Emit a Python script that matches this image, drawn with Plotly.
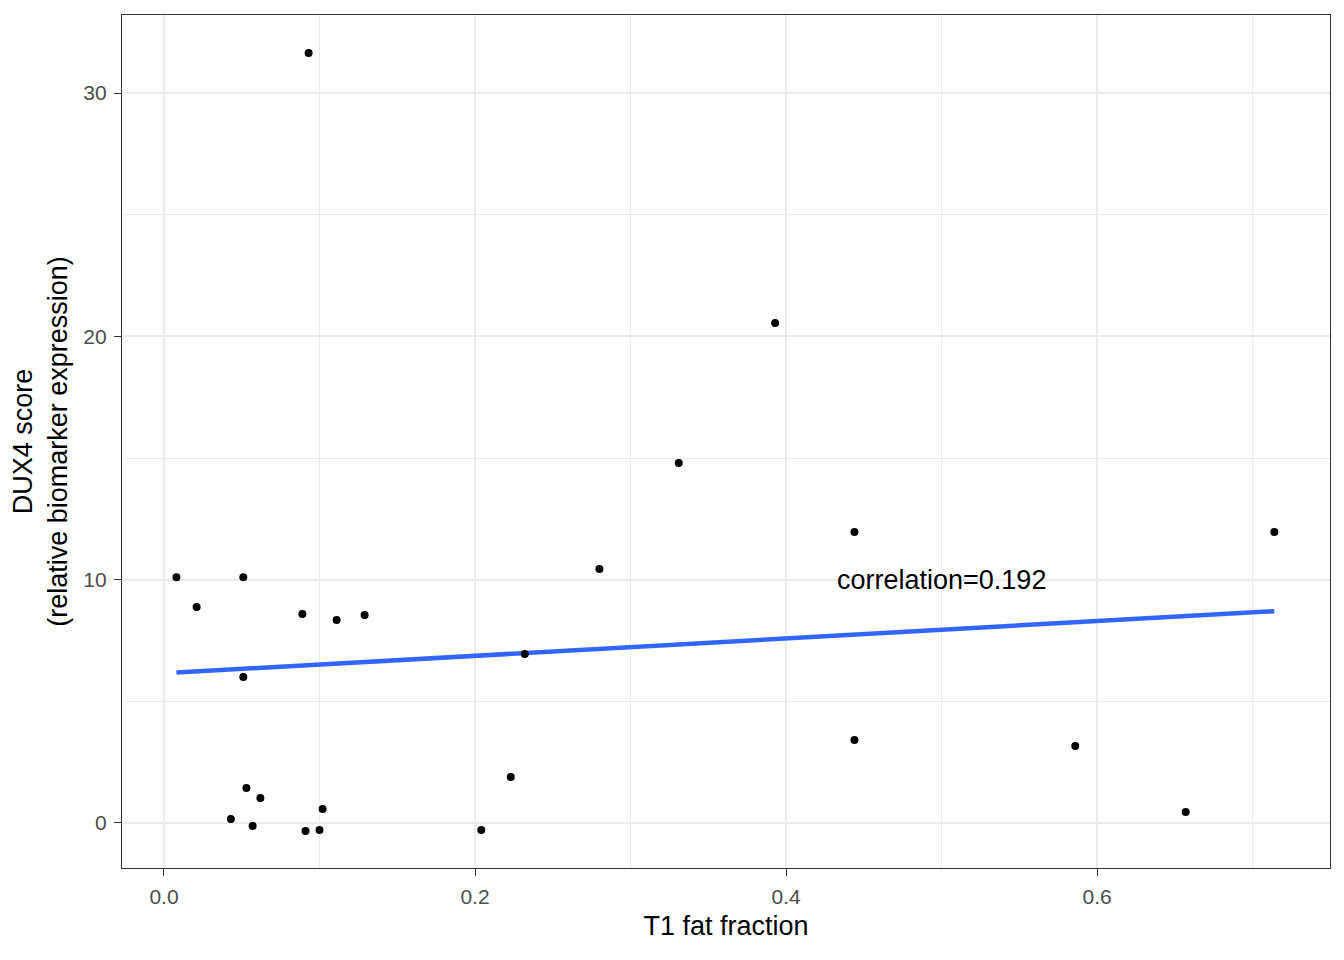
import numpy as np
import plotly.graph_objects as go

# T1 fat fraction vs DUX4 score
fat_fraction = [0.008, 0.051, 0.021, 0.089, 0.111, 0.129, 0.051, 0.053, 0.062,
                0.043, 0.057, 0.091, 0.100, 0.102, 0.204, 0.223, 0.232, 0.280,
                0.331, 0.393, 0.444, 0.444, 0.093, 0.586, 0.657, 0.714]
dux4_score = [10.1, 10.1, 8.88, 8.59, 8.34, 8.55, 6.0, 1.44, 1.03,
              0.16, -0.12, -0.33, -0.29, 0.58, -0.29, 1.89, 6.95, 10.44,
              14.8, 20.55, 11.96, 3.41, 31.65, 3.16, 0.45, 11.96]
corr_label = "correlation=0.192"

x = np.array(fat_fraction)
y = np.array(dux4_score)
slope, intercept = np.polyfit(x, y, 1)
fit_x = np.linspace(x.min(), x.max(), 80)
fit_y = slope * fit_x + intercept

fig = go.Figure()
fig.add_trace(go.Scatter(x=fit_x, y=fit_y, mode="lines",
                         line=dict(color="#3366FF", width=4.5), hoverinfo="skip"))
fig.add_trace(go.Scatter(x=fat_fraction, y=dux4_score, mode="markers",
                         marker=dict(color="black", size=8)))

fig.add_annotation(x=0.5, y=10, text=corr_label, showarrow=False,
                   font=dict(size=27, color="black"))

axis_style = dict(showline=True, linecolor="#333333", linewidth=1.3, mirror=True,
                  ticks="outside", ticklen=7, tickcolor="#333333", tickwidth=1.3,
                  gridcolor="#EBEBEB", gridwidth=2, zeroline=False,
                  ticklabelstandoff=3,
                  tickfont=dict(size=21, color="#4D4D4D"),
                  title_font=dict(size=27, color="black"))

fig.update_xaxes(range=[-0.027, 0.7498], tickvals=[0, 0.2, 0.4, 0.6],
                 ticktext=["0.0", "0.2", "0.4", "0.6"],
                 title_text="T1 fat fraction", title_standoff=8,
                 minor=dict(tickvals=[0.1, 0.3, 0.5, 0.7], showgrid=True,
                            gridcolor="#EBEBEB", gridwidth=1, ticks=""),
                 **axis_style)
fig.update_yaxes(range=[-1.85, 33.21], tickvals=[0, 10, 20, 30],
                 title_text="DUX4 score<br>(relative biomarker expression)",
                 title_standoff=13,
                 minor=dict(tickvals=[5, 15, 25], showgrid=True,
                            gridcolor="#EBEBEB", gridwidth=1, ticks=""),
                 **axis_style)

# page body has an 8px margin, so the figure sits at (8, 8)
fig.update_layout(width=1328, height=944, showlegend=False,
                  plot_bgcolor="white", paper_bgcolor="white",
                  font=dict(family="Liberation Sans, Arial, sans-serif"),
                  margin=dict(l=114, r=6, t=7, b=84))

fig.write_html("out.html")
